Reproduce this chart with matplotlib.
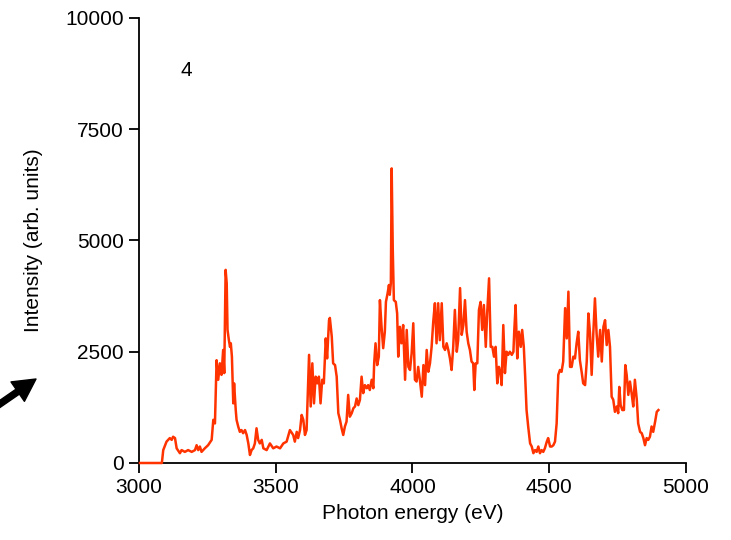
import matplotlib
matplotlib.use("Agg")
import matplotlib.pyplot as plt

plt.rcParams['font.family'] = ['Liberation Sans', 'DejaVu Sans']

# spectrum (eV, arb. units)
energy = [
    3004, 3084, 3089, 3101, 3113, 3120, 3125, 3132, 3138, 3150, 3156, 3168, 3180, 3193,
    3205, 3211, 3217, 3223, 3229, 3241, 3253, 3266, 3272, 3278, 3284, 3290, 3296, 3302,
    3308, 3312, 3317, 3321, 3324, 3329, 3333, 3336, 3340, 3345, 3348, 3354, 3357, 3363,
    3369, 3375, 3381, 3388, 3394, 3400, 3406, 3412, 3418, 3424, 3430, 3436, 3442, 3449,
    3455, 3467, 3479, 3491, 3503, 3516, 3528, 3540, 3552, 3564, 3570, 3577, 3582, 3589,
    3595, 3601, 3607, 3613, 3622, 3628, 3634, 3640, 3646, 3652, 3658, 3664, 3670, 3676,
    3683, 3688, 3695, 3698, 3705, 3710, 3717, 3723, 3729, 3735, 3741, 3747, 3753, 3759,
    3765, 3771, 3778, 3784, 3790, 3796, 3802, 3808, 3814, 3820, 3826, 3833, 3838, 3844,
    3851, 3857, 3860, 3865, 3871, 3877, 3881, 3887, 3893, 3899, 3903, 3909, 3914, 3917,
    3921, 3924, 3928, 3932, 3939, 3944, 3948, 3954, 3960, 3966, 3973, 3979, 3985, 3991,
    3997, 4003, 4009, 4015, 4021, 4027, 4034, 4040, 4046, 4052, 4058, 4064, 4070, 4076,
    4082, 4088, 4094, 4100, 4107, 4113, 4119, 4125, 4131, 4137, 4143, 4149, 4155, 4162,
    4167, 4174, 4180, 4186, 4192, 4198, 4204, 4210, 4216, 4222, 4226, 4231, 4237, 4243,
    4249, 4255, 4261, 4268, 4273, 4280, 4286, 4292, 4298, 4304, 4310, 4316, 4322, 4326,
    4332, 4338, 4344, 4350, 4356, 4363, 4369, 4372, 4377, 4383, 4389, 4396, 4401, 4407,
    4412, 4417, 4423, 4430, 4436, 4442, 4448, 4454, 4460, 4466, 4472, 4478, 4484, 4491,
    4496, 4503, 4509, 4515, 4521, 4527, 4533, 4539, 4545, 4551, 4558, 4564, 4570, 4576,
    4582, 4588, 4594, 4600, 4606, 4612, 4619, 4624, 4631, 4637, 4643, 4649, 4655, 4661,
    4667, 4673, 4679, 4686, 4692, 4698, 4704, 4710, 4716, 4722, 4728, 4734, 4740, 4747,
    4752, 4756, 4761, 4767, 4773, 4778, 4783, 4789, 4795, 4801, 4807, 4813, 4820, 4825,
    4832, 4838, 4844, 4850, 4856, 4862, 4868, 4874, 4880, 4887, 4893, 4899,
]
intensity = [
    0, 0, 290, 480, 560, 520, 590, 560, 330, 220, 290, 250, 290, 250,
    290, 400, 290, 370, 250, 330, 400, 520, 970, 890, 2310, 1870, 2240, 1980,
    2540, 2020, 4340, 4040, 2990, 2760, 2610, 2690, 2390, 1340, 1790, 1190, 970, 820,
    700, 740, 670, 740, 630, 440, 180, 290, 330, 440, 780, 520, 440, 520,
    330, 290, 440, 330, 370, 330, 440, 480, 740, 630, 480, 700, 560, 740,
    1080, 970, 630, 740, 2430, 1270, 2240, 1340, 1940, 1790, 1940, 1340, 1870, 1790,
    2800, 2350, 3210, 3260, 2840, 2240, 2200, 1940, 1120, 970, 780, 630, 820, 930,
    1530, 1040, 1120, 1230, 1270, 1450, 1300, 1420, 1940, 1570, 1750, 1680, 1750, 1640,
    1870, 1680, 2240, 2690, 2200, 2390, 3660, 3060, 2580, 2950, 3620, 3810, 4000, 3780,
    4040, 6620, 4790, 3660, 3620, 3360, 2390, 3060, 2690, 3100, 1870, 2990, 2160, 2090,
    2470, 3140, 1870, 1830, 2160, 1870, 1490, 2200, 1750, 2540, 2050, 2240, 2610, 3180,
    3590, 2690, 3590, 2760, 3590, 2610, 2540, 2690, 2540, 2350, 2090, 2610, 3440, 2500,
    2760, 3930, 2880, 3100, 3660, 2950, 2690, 2540, 2280, 2240, 1640, 2240, 2240, 3440,
    3620, 2990, 3550, 2610, 3360, 4150, 2610, 2610, 2390, 2610, 1790, 2160, 2020, 1750,
    3100, 2020, 2500, 2430, 2500, 2430, 2500, 2950, 3550, 2350, 2950, 2610, 2990, 2610,
    1940, 1190, 820, 440, 370, 220, 290, 250, 370, 220, 290, 250, 330, 480,
    560, 370, 370, 400, 480, 890, 1980, 2090, 2050, 2280, 3480, 2800, 3850, 2160,
    2160, 2390, 2350, 2690, 2950, 2310, 2020, 1790, 1750, 2280, 3360, 2910, 1980, 2910,
    3700, 2910, 2390, 2990, 2280, 3060, 3210, 2650, 2990, 2610, 1490, 1420, 1150, 1270,
    1120, 1710, 1300, 1190, 1190, 2200, 1980, 1530, 1830, 1570, 1270, 1870, 1420, 890,
    700, 670, 560, 400, 560, 520, 590, 820, 700, 930, 1150, 1190,
]

xticks = [3000, 3500, 4000, 4500, 5000]
yticks = [0, 2500, 5000, 7500, 10000]

fig = plt.figure(figsize=(7.31, 5.40), dpi=100)
ax = fig.add_axes([0.190, 0.1426, 0.7485, 0.8241])

ax.plot(energy, intensity, color='#ff3300', linewidth=1.8, clip_on=False, zorder=3)

ax.set_xlim(3000, 5000)
ax.set_ylim(0, 10000)
ax.set_xticks(xticks)
ax.set_yticks(yticks)

for side in ['top', 'right']:
    ax.spines[side].set_visible(False)
for side in ['left', 'bottom']:
    ax.spines[side].set_linewidth(1.3)
ax.tick_params(direction='out', length=7, width=1.3, labelsize=15, pad=4)

ax.set_xlabel('Photon energy (eV)', fontsize=15, labelpad=5)
ax.set_ylabel('Intensity (arb. units)', fontsize=15, labelpad=16)

ax.text(3175, 8830, '4', fontsize=15, ha='center', va='center')

# arrow at the left edge of the figure
ax.annotate('', xy=(36, 161), xycoords='figure pixels',
            xytext=(-6, 132), textcoords='figure pixels',
            arrowprops=dict(facecolor='black', edgecolor='black', width=4.3,
                            headwidth=17, headlength=16, shrink=0),
            annotation_clip=False)

fig.savefig('out.png', dpi=100)
